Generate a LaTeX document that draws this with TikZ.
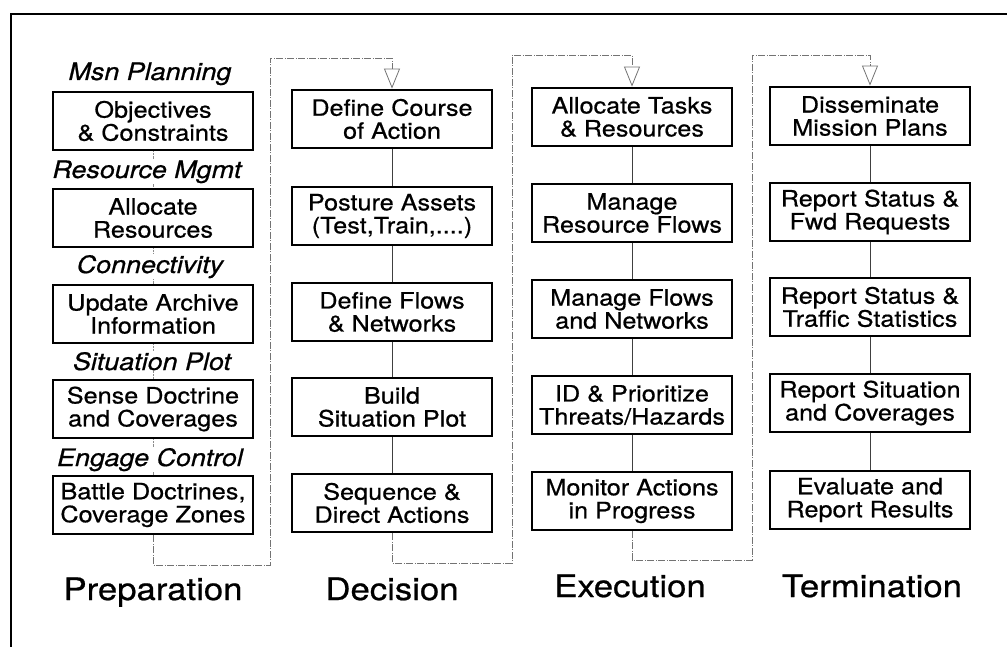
\documentclass[tikz,border=0pt]{standalone}
\usepackage{fontspec}
\setmainfont{TeX Gyre Heros}[FakeStretch=1.12, FakeBold=0.7]
\usetikzlibrary{arrows.meta}

\begin{document}
\begin{tikzpicture}[x=1pt, y=-1pt,
        task/.style = {draw, line width=2.8pt, minimum width=200pt, minimum height=58pt,
                       align=center, inner sep=2pt, font=\fontsize{22.5}{23}\selectfont},
        head/.style = {anchor=base, fill=white, inner sep=1pt, font=\fontsize{24}{26}\selectfont\itshape},
        phase/.style = {anchor=base, font=\fontsize{31}{33}\selectfont},
        link/.style = {thin, black!75},
        hint/.style = {thin, black!45, densely dotted},
        loop/.style = {line width=0.8pt, black!55, dash pattern=on 7pt off 1.5pt on 1pt off 1.5pt,
                       -{Triangle[open, length=20pt, width=16pt, line width=0.8pt]}}]
                \useasboundingbox (0,0) rectangle (1007,647);
                \draw [line width=2.4pt] (11,647) -- (11,14) -- (1007,14);

                % Preparation
                \node[task] at (153, 121) (P1) {Objectives\\\& Constraints};
                \node[task] at (153, 218) (P2) {Allocate\\Resources};
                \node[task] at (153, 314) (P3) {Update Archive\\Information};
                \node[task] at (153, 409) (P4) {Sense Doctrine\\and Coverages};
                \node[task] at (153, 505) (P5) {Battle Doctrines,\\Coverage Zones};

                % Decision
                \node[task] at (392, 119) (D1) {Define Course\\of Action};
                \node[task] at (392, 216) (D2) {Posture Assets\\(Test,Train,....)};
                \node[task] at (392, 312) (D3) {Define Flows\\\& Networks};
                \node[task] at (392, 407) (D4) {Build\\Situation Plot};
                \node[task] at (392, 503) (D5) {Sequence \&\\Direct Actions};

                % Execution
                \node[task] at (632, 117) (E1) {Allocate Tasks\\\& Resources};
                \node[task] at (632, 213) (E2) {Manage\\Resource Flows};
                \node[task] at (632, 309) (E3) {Manage Flows\\and Networks};
                \node[task] at (632, 405) (E4) {ID \& Prioritize\\Threats/Hazards};
                \node[task] at (632, 501) (E5) {Monitor Actions\\in Progress};

                % Termination
                \node[task] at (870, 116) (T1) {Disseminate\\Mission Plans};
                \node[task] at (870, 212) (T2) {Report Status \&\\Fwd Requests};
                \node[task] at (870, 307) (T3) {Report Status \&\\Traffic Statistics};
                \node[task] at (870, 403) (T4) {Report Situation\\and Coverages};
                \node[task] at (870, 500) (T5) {Evaluate and\\Report Results};

                \draw [hint] (P1) -- (P2);
                \draw [hint] (P2) -- (P3);
                \draw [hint] (P3) -- (P4);
                \draw [hint] (P4) -- (P5);

                \node[head] at (150, 80) (H1) {Msn Planning};
                \node[head] at (147, 178) (H2) {Resource Mgmt};
                \node[head] at (150, 273) (H3) {Connectivity};
                \node[head] at (152, 370) (H4) {Situation Plot};
                \node[head] at (150, 466) (H5) {Engage Control};

                \draw [link] (D1) -- (D2);
                \draw [link] (D2) -- (D3);
                \draw [link] (D3) -- (D4);
                \draw [link] (D4) -- (D5);
                \draw [link] (E1) -- (E2);
                \draw [link] (E2) -- (E3);
                \draw [link] (E3) -- (E4);
                \draw [link] (E4) -- (E5);
                \draw [link] (T1) -- (T2);
                \draw [link] (T2) -- (T3);
                \draw [link] (T3) -- (T4);
                \draw [link] (T4) -- (T5);

                % hand-over loops
                \coordinate (A1) at (270, 565);
                \coordinate (A2) at (270, 58);
                \coordinate (B1) at (512, 563);
                \coordinate (B2) at (512, 55);
                \coordinate (C1) at (752, 560);
                \coordinate (C2) at (752, 55);
                \draw [loop] (P5.south) |- (A1) -- (A2) -| (D1.north);
                \draw [loop] (D5.south) |- (B1) -- (B2) -| (E1.north);
                \draw [loop] (E5.south) |- (C1) -- (C2) -| (T1.north);

                \node[phase] at (153, 600) (prep) {Preparation};
                \node[phase] at (392, 600) (deci) {Decision};
                \node[phase] at (630, 597) (exec) {Execution};
                \node[phase] at (872, 597) (term) {Termination};
            \end{tikzpicture}
\end{document}
